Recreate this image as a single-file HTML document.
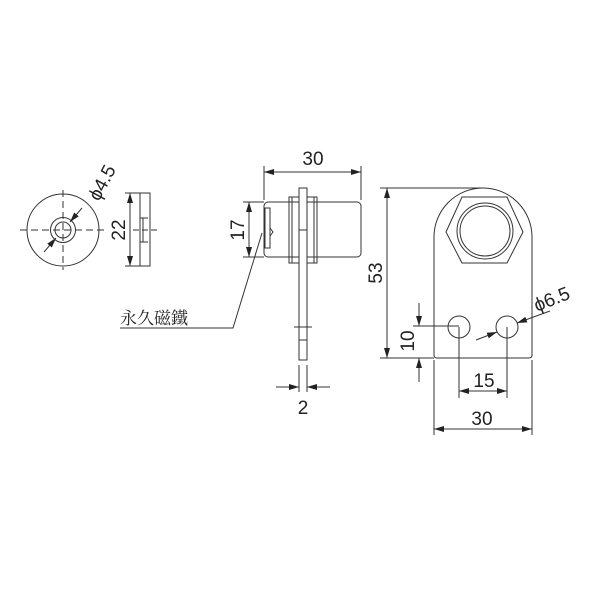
<!DOCTYPE html>
<html><head><meta charset="utf-8"><style>
html,body{margin:0;padding:0;background:#fff;width:600px;height:600px;overflow:hidden}
svg text{font-family:"Liberation Sans",sans-serif;fill:#222}
</style></head><body>
<svg width="600" height="600" viewBox="0 0 600 600" xmlns="http://www.w3.org/2000/svg">
<defs>
<marker id="a" viewBox="0 0 10 6" refX="10" refY="3" markerWidth="10" markerHeight="6" markerUnits="userSpaceOnUse" orient="auto-start-reverse"><path d="M0,0 L10,3 L0,6 z" fill="#222"/></marker>
</defs>
<g stroke="#333" stroke-width="1" fill="none">
<!-- left circle view -->
<circle cx="63" cy="230" r="36"/>
<circle cx="63" cy="230" r="12.5"/>
<circle cx="63" cy="230" r="8"/>
<line x1="20" y1="230" x2="106" y2="230" stroke-dasharray="7,4"/>
<line x1="63" y1="190" x2="63" y2="270" stroke-dasharray="7,4"/>
<line x1="44" y1="252" x2="56" y2="238" marker-end="url(#a)"/>
<line x1="82" y1="208" x2="70" y2="222" marker-end="url(#a)"/>
<!-- side washer -->
<rect x="140" y="193" width="10" height="73"/>
<line x1="140" y1="218" x2="148" y2="218"/>
<line x1="140" y1="242" x2="148" y2="242"/>
<line x1="143" y1="218" x2="143" y2="242"/>
<line x1="133" y1="230" x2="158" y2="230" stroke-dasharray="6,3"/>
<line x1="125" y1="193" x2="140" y2="193"/>
<line x1="125" y1="266" x2="140" y2="266"/>
<line x1="130" y1="193" x2="130" y2="266" marker-start="url(#a)" marker-end="url(#a)"/>
<!-- middle view -->
<rect x="264" y="202" width="97" height="55" rx="4"/>
<rect x="289" y="197" width="10" height="66"/>
<rect x="307" y="197" width="10" height="66"/>
<line x1="292" y1="197" x2="292" y2="263"/>
<line x1="314" y1="197" x2="314" y2="263"/>
<rect x="299" y="188" width="8" height="172" fill="#fff"/>
<line x1="299" y1="230" x2="307" y2="230"/>
<line x1="294" y1="327" x2="312" y2="327"/>
<line x1="299" y1="340" x2="307" y2="340"/>
<rect x="265" y="208" width="5" height="40"/>
<path d="M270,228 L273,232 L270,236"/>
<line x1="264" y1="166" x2="264" y2="200"/>
<line x1="361" y1="166" x2="361" y2="200"/>
<line x1="264" y1="172" x2="361" y2="172" marker-start="url(#a)" marker-end="url(#a)"/>
<line x1="243" y1="202" x2="264" y2="202"/>
<line x1="243" y1="257" x2="264" y2="257"/>
<line x1="249" y1="202" x2="249" y2="257" marker-start="url(#a)" marker-end="url(#a)"/>
<polyline points="120,328 233,328 262,233" />
<line x1="299" y1="365" x2="299" y2="392"/>
<line x1="307" y1="365" x2="307" y2="392"/>
<line x1="276" y1="387" x2="299" y2="387" marker-end="url(#a)"/>
<line x1="330" y1="387" x2="307" y2="387" marker-end="url(#a)"/>
<!-- right view -->
<path d="M434,355 L434,237 A49,49 0 0 1 532,237 L532,355 Q532,358 529,358 L437,358 Q434,358 434,355 Z"/>
<polygon points="446,232 462,197 507,197 523,232 507,263 462,263"/>
<circle cx="485" cy="231" r="28"/>
<circle cx="485" cy="231" r="25"/>
<circle cx="459" cy="327" r="11"/>
<circle cx="507" cy="327" r="11"/>
<line x1="380" y1="188" x2="483" y2="188"/>
<line x1="380" y1="358" x2="434" y2="358"/>
<line x1="387" y1="188" x2="387" y2="358" marker-start="url(#a)" marker-end="url(#a)"/>
<line x1="413" y1="326" x2="459" y2="326"/>
<line x1="413" y1="358" x2="434" y2="358"/>
<line x1="419" y1="303" x2="419" y2="326" marker-end="url(#a)"/>
<line x1="419" y1="382" x2="419" y2="358" marker-end="url(#a)"/>
<line x1="459" y1="327" x2="459" y2="398"/>
<line x1="507" y1="327" x2="507" y2="398"/>
<line x1="459" y1="391" x2="507" y2="391" marker-start="url(#a)" marker-end="url(#a)"/>
<line x1="434" y1="360" x2="434" y2="435"/>
<line x1="532" y1="360" x2="532" y2="435"/>
<line x1="434" y1="429" x2="532" y2="429" marker-start="url(#a)" marker-end="url(#a)"/>
<line x1="476" y1="340" x2="497" y2="332" marker-end="url(#a)"/>
<line x1="550" y1="311" x2="517" y2="323" marker-end="url(#a)"/>
</g>
<g font-size="19">
<text x="0" y="0" transform="translate(99,202) rotate(-62)">ϕ4.5</text>
<text x="0" y="0" text-anchor="middle" transform="translate(125,230) rotate(-90)">22</text>
<text x="313" y="165" text-anchor="middle">30</text>
<text x="0" y="0" text-anchor="middle" transform="translate(244,230) rotate(-90)">17</text>
<text x="303" y="414" text-anchor="middle">2</text>
<text x="0" y="0" text-anchor="middle" transform="translate(382,273) rotate(-90)">53</text>
<text x="0" y="0" text-anchor="middle" transform="translate(414,341) rotate(-90)">10</text>
<text x="484" y="387" text-anchor="middle">15</text>
<text x="482" y="425" text-anchor="middle">30</text>
<text x="0" y="0" transform="translate(537,312) rotate(-22)">ϕ6.5</text>
</g>
<text x="120" y="324" font-size="17" style="font-family:'Noto Serif CJK SC','Noto Sans CJK TC',serif">永久磁鐵</text>
</svg>
</body></html>
